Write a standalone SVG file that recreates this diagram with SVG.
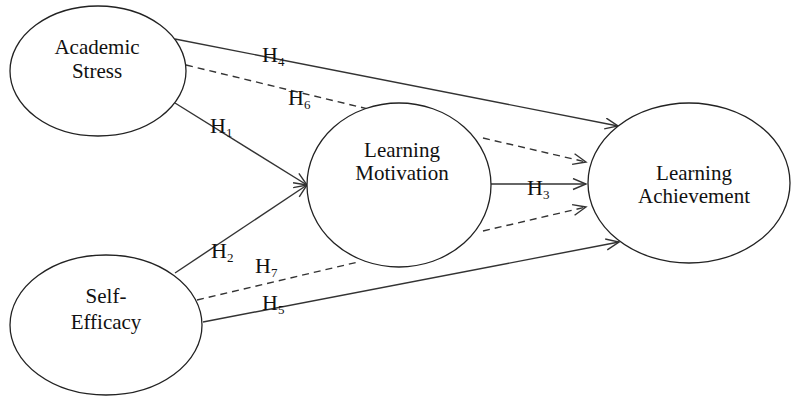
<svg xmlns="http://www.w3.org/2000/svg" width="792" height="396" viewBox="0 0 792 396">
<style>
.node{fill:#fff;stroke:#222;stroke-width:1.3}
.t{font-family:"Liberation Serif","Times New Roman",serif;font-size:21px;fill:#111;text-anchor:middle}
.h{font-family:"Liberation Serif","Times New Roman",serif;font-size:22px;fill:#111}
.s{font-size:13px}
.ln{stroke:#333;stroke-width:1.4;fill:none}
.d{stroke-dasharray:7,5}
</style>
<defs>
<marker id="ar" markerUnits="userSpaceOnUse" markerWidth="16" markerHeight="14" refX="14" refY="6" orient="auto" viewBox="0 0 16 14">
<path d="M1,0.5 L14,6 L1,11.5" fill="none" stroke="#333" stroke-width="1.4"/>
</marker>
</defs>
<rect width="792" height="396" fill="#fff"/>
<g id="connectors">
<line class="ln" x1="175" y1="39" x2="618" y2="126" marker-end="url(#ar)"/>
<line class="ln d" x1="186" y1="65" x2="368" y2="109"/>
<line class="ln" x1="175" y1="103" x2="307" y2="185" marker-end="url(#ar)"/>
<line class="ln" x1="175" y1="273" x2="307" y2="185" marker-end="url(#ar)"/>
<line class="ln d" x1="197" y1="300" x2="358" y2="262"/>
<line class="ln" x1="203" y1="322" x2="619" y2="242" marker-end="url(#ar)"/>
<line class="ln" x1="491" y1="184" x2="586" y2="184" marker-end="url(#ar)"/>
<line class="ln d" x1="483" y1="138" x2="586" y2="162" marker-end="url(#ar)"/>
<line class="ln d" x1="483" y1="231" x2="586" y2="207" marker-end="url(#ar)"/>
<text class="h" x="262" y="62">H<tspan class="s" dy="4">4</tspan></text>
<text class="h" x="288" y="105">H<tspan class="s" dy="4">6</tspan></text>
<text class="h" x="210" y="133">H<tspan class="s" dy="4">1</tspan></text>
<text class="h" x="211" y="258">H<tspan class="s" dy="4">2</tspan></text>
<text class="h" x="255" y="273">H<tspan class="s" dy="4">7</tspan></text>
<text class="h" x="262" y="310">H<tspan class="s" dy="4">5</tspan></text>
<text class="h" x="527" y="195">H<tspan class="s" dy="4">3</tspan></text>
</g>
<g id="academic-stress">
<ellipse class="node" cx="98" cy="71" rx="88" ry="65"/>
<text class="t" x="97" y="54">Academic</text>
<text class="t" x="97" y="78">Stress</text>
</g>
<g id="self-efficacy">
<ellipse class="node" cx="106" cy="325" rx="96" ry="70"/>
<text class="t" x="106" y="303">Self-</text>
<text class="t" x="106" y="329">Efficacy</text>
</g>
<g id="learning-motivation">
<ellipse class="node" cx="399" cy="185" rx="92" ry="82"/>
<text class="t" x="402" y="157">Learning</text>
<text class="t" x="402" y="180">Motivation</text>
</g>
<g id="learning-achievement">
<ellipse class="node" cx="689" cy="183" rx="101" ry="80"/>
<text class="t" x="694" y="180">Learning</text>
<text class="t" x="694" y="203">Achievement</text>
</g>
</svg>
